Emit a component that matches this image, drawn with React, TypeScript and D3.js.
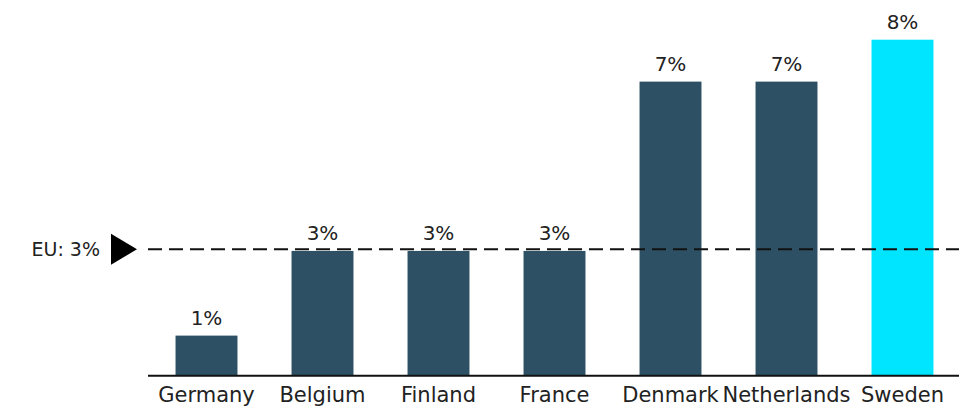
import React from "react";
import * as d3 from "d3";

const categories = ["Germany", "Belgium", "Finland", "France", "Denmark", "Netherlands", "Sweden"];
const values = [0.94, 2.96, 2.96, 2.96, 7.0, 7.0, 8.0];
const labels = ["1%", "3%", "3%", "3%", "7%", "7%", "8%"];
const highlight = ["Sweden"];
const euValue = 3.0;
const euLabel = "EU: 3%";

const W = 959;
const H = 407;
const FONT = "'DejaVu Sans', sans-serif";

export default function App() {
  const x = d3.scaleBand<string>().domain(categories).range([148.5, 960.5]).paddingInner(0.466).paddingOuter(0.233);
  const y = d3.scaleLinear().domain([0, 8]).range([375, 39.7]);
  const yEU = y(euValue);
  const tri = d3.line()([
    [111, yEU - 15.5],
    [111, yEU + 15.5],
    [137, yEU],
  ]) + "Z";
  return (
    <svg width={W} height={H} style={{ position: "absolute", left: 0, top: 0, background: "#fff" }} fontFamily={FONT}>
      {categories.map((c, i) => (
        <g key={c}>
          <rect
            x={x(c)!}
            y={y(values[i])}
            width={x.bandwidth()}
            height={y(0) - y(values[i])}
            fill={highlight.includes(c) ? "#00e5ff" : "#2d5064"}
          />
          <text x={x(c)! + x.bandwidth() / 2} y={y(values[i]) - 11} textAnchor="middle" fontSize={20} fill="#222">
            {labels[i]}
          </text>
          <text x={x(c)! + x.bandwidth() / 2} y={402} textAnchor="middle" fontSize={21} fill="#222">
            {c}
          </text>
        </g>
      ))}
      <line x1={148} x2={959} y1={375.7} y2={375.7} stroke="#111" strokeWidth={2} />
      <line x1={148} x2={959} y1={yEU} y2={yEU} stroke="#111" strokeWidth={2} strokeDasharray="14,7" />
      <path d={tri} fill="#000" />
      <text x={100} y={yEU + 7} textAnchor="end" fontSize={19} fill="#222">
        {euLabel}
      </text>
    </svg>
  );
}
